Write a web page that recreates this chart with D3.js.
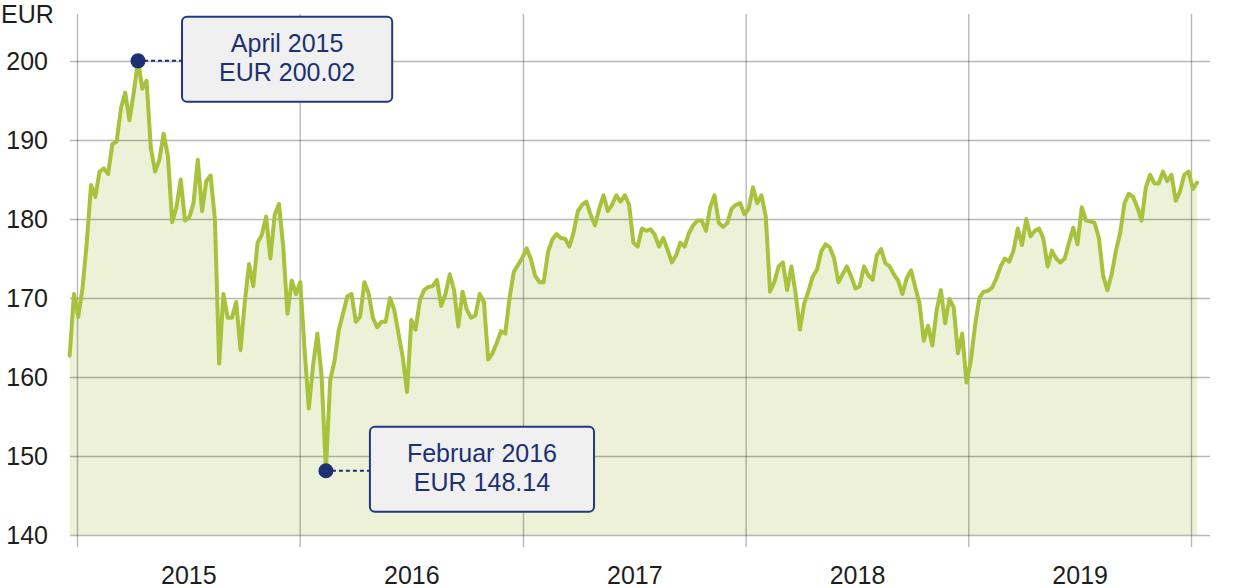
<!DOCTYPE html>
<html><head><meta charset="utf-8">
<script src="https://cdn.jsdelivr.net/npm/d3@7"></script>
<style>
body{margin:0;background:#fff}
svg{display:block}
text{font-family:"Liberation Sans", Arial, Helvetica, sans-serif}
</style>
</head><body>
<svg id="chart" width="1240" height="588"></svg>
<script>
// ---- data (weekly closing prices, EUR) ----
const startDate = "2014-12-20";
const prices = [
 162.7,170.5,167.6,171.2,177,184.3,182.8,186,186.4,185.7,
 189.5,189.8,194,196,192.5,196,200.02,196.5,197.5,189,
 186,187.5,190.8,188,179.6,181.5,185,179.8,180.2,182,
 187.5,181,184.8,185.5,180,161.7,170.5,167.5,167.5,169.5,
 163.4,169.5,174.3,171.5,177,178,180.3,175,180.5,181.9,
 176.5,168,172.2,170.5,172,163.5,156,161.5,165.5,160,
 148.14,159.6,162,165.9,168,170.2,170.5,167,167.6,172,
 170.6,167.5,166.3,167,167,170,168.5,165.5,162.5,158.1,
 167.2,166,169.7,171,171.4,171.5,172.3,169,170.5,173,
 171,166.4,170.8,168.5,167.5,167.8,170.5,169.5,162.2,163,
 164.3,165.8,165.5,170,173.3,174.2,175.1,176.3,174.9,172.8,
 172,172,175.8,177.4,178.1,177.6,177.5,176.5,178.3,181,
 181.8,182.2,180.5,179.2,181.3,183,181,181.8,183,182.2,
 183,181.8,177,176.5,178.8,178.5,178.7,178,176.5,177.6,
 176.1,174.5,175.4,177,176.5,178.2,179.2,179.8,179.8,178.5,
 181.5,183,179.5,179,179.5,181.3,181.8,182,180.6,181.3,
 184,182,183,180.3,170.8,172,174,174.5,171,174,
 170.5,166,169.3,170.9,172.7,173.6,175.9,176.8,176.4,175,
 172,173,174,172.7,171.2,171.5,174,172.9,172.3,175.4,
 176.2,174.4,174,173,172.2,170.5,172.5,173.5,171.4,169.3,
 164.6,166.5,164,168.4,171,166.8,169.9,168.8,163,165.5,
 159.3,162,166.5,170,170.8,170.9,171.3,172.5,174,175,
 174.6,176,178.8,176.7,180,177.8,178.5,178.8,177.5,174,
 176,175,174.5,175,177,178.9,176.8,181.5,179.8,179.7,
 179.5,177.6,172.8,171,173,176,178.3,182,183.2,182.8,
 181.5,179.8,184,185.6,184.5,184.5,186,184.8,185.6,182.3,
 183.5,185.6,186,183.8,184.6
];
const yTicks = [140,150,160,170,180,190,200];
const gridYears = [2015,2016,2017,2018,2019,2020];
const labelYears = [2015,2016,2017,2018,2019];
const unit = "EUR";
const monthNames = ["Januar","Februar","März","April","Mai","Juni","Juli","August","September","Oktober","November","Dezember"];

// ---- build ----
const parse = d3.timeParse("%Y-%m-%d");
const t0 = parse(startDate);
const data = prices.map((v,i)=>({date: d3.timeDay.offset(t0, 7*i), value: v}));

const svg = d3.select("#chart");
const x = d3.scaleTime().domain([new Date(2015,0,1), new Date(2020,0,1)]).range([77,1191]);
const y = d3.scaleLinear().domain([140,200]).range([535,61]);
const gridLeft = 70, gridRight = 1210, vTop = 14, vBottom = 547;

const FONT = 25;
const textColor = "#1e1e1e";
const navy = "#1c3173";

// area fill
svg.append("path").datum(data)
  .attr("fill","#edf1d8")
  .attr("d", d3.area().x(d=>x(d.date)).y0(y(140)).y1(d=>y(d.value)));

// horizontal gridlines + y labels
const yAxis = svg.append("g").attr("transform",`translate(${gridLeft},0)`)
  .call(d3.axisLeft(y).tickValues(yTicks).tickSize(-(gridRight-gridLeft)).tickPadding(22).tickFormat(d3.format("d")));
yAxis.select(".domain").remove();
yAxis.selectAll("line").attr("stroke","#000").attr("stroke-opacity",0.28).attr("stroke-width",1.4);
yAxis.selectAll("text").attr("fill",textColor).style("font-size",FONT+"px");

// vertical gridlines (year boundaries)
const xGrid = svg.append("g").attr("transform",`translate(0,${vBottom})`)
  .call(d3.axisBottom(x).tickValues(gridYears.map(yr=>new Date(yr,0,1))).tickSize(-(vBottom-vTop)).tickFormat(""));
xGrid.select(".domain").remove();
xGrid.selectAll("line").attr("stroke","#000").attr("stroke-opacity",0.28).attr("stroke-width",1.4);

// year labels centred within each year
const xLab = svg.append("g").attr("transform",`translate(0,${vBottom})`)
  .call(d3.axisBottom(x)
    .tickValues(labelYears.map(yr=>new Date((+new Date(yr,0,1) + +new Date(yr+1,0,1))/2)))
    .tickSize(0).tickPadding(19).tickFormat(d3.timeFormat("%Y")));
xLab.select(".domain").remove();
xLab.selectAll("text").attr("fill",textColor).style("font-size",FONT+"px");

// unit label
svg.append("text").attr("x",1).attr("y",23).attr("fill",textColor)
  .style("font-size",FONT+"px").text(unit);

// price line
svg.append("path").datum(data)
  .attr("fill","none").attr("stroke","#a9c23d").attr("stroke-width",4)
  .attr("stroke-linejoin","round").attr("stroke-linecap","round")
  .attr("d", d3.line().x(d=>x(d.date)).y(d=>y(d.value)));

// callouts for max and min
const extremes = [d3.greatest(data, d=>d.value), d3.least(data, d=>d.value)];
const fmt = d3.format(".2f");
extremes.forEach(p=>{
  const cx = x(p.date), cy = y(p.value);
  const lines = [monthNames[p.date.getMonth()] + " " + p.date.getFullYear(), unit + " " + fmt(p.value)];
  const g = svg.append("g");
  const boxX = cx + 44, boxY = cy - 44, boxH = 85;
  const rect = g.append("rect").attr("x",boxX).attr("y",boxY).attr("height",boxH)
    .attr("rx",5).attr("fill","#f0f0f0").attr("stroke","#1f3a80").attr("stroke-width",2);
  const tx = lines.map((s,i)=> g.append("text").attr("y", boxY + 35.5 + i*28.5)
      .attr("text-anchor","middle").attr("fill",navy).style("font-size",FONT+"px").text(s));
  const w = d3.max(tx, t=>t.node().getComputedTextLength()) + 74;
  rect.attr("width", w);
  tx.forEach(t=>t.attr("x", boxX + w/2));
  g.append("line").attr("x1",cx+6).attr("x2",boxX).attr("y1",cy).attr("y2",cy)
    .attr("stroke",navy).attr("stroke-width",2).attr("stroke-dasharray","4,3");
  g.append("circle").attr("cx",cx).attr("cy",cy).attr("r",7.5).attr("fill",navy);
});
</script>
</body></html>
